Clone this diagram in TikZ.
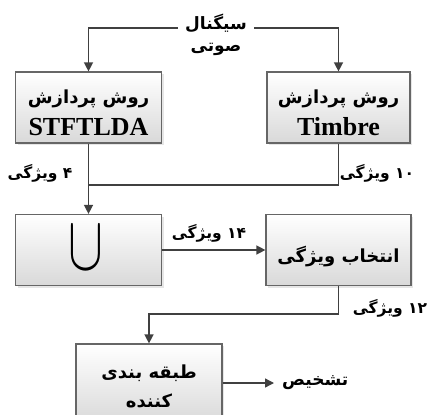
\documentclass[tikz,border=0pt]{standalone}
\usepackage{fontspec}
\usepackage{graphicx}
\setmainfont{Liberation Serif}
\newfontfamily\fafont[Script=Arabic]{DejaVu Sans}
\TeXXeTstate=1
\usetikzlibrary{arrows.meta,shadows}
\newcommand\fatx[1]{{\fafont\beginR #1\endR}}
\newcommand\tgap[1]{\rule{0pt}{#1}}
\tikzset{
  box/.style={draw=black!60, line width=1.2pt, top color=white, bottom color=black!15,
    minimum width=146pt, minimum height=71pt, align=center, inner sep=0pt,
    drop shadow={shadow xshift=2pt, shadow yshift=-2pt, opacity=0.2},
    font=\fontsize{18}{32}\selectfont\bfseries},
  conn/.style={draw=black!75, line width=1.4pt},
  arr/.style={conn, -{Triangle[length=9pt,width=9pt]}},
  lab/.style={font=\fontsize{15.5}{18}\selectfont\bfseries, inner sep=0pt},
}
\begin{document}
\begin{tikzpicture}[x=1pt,y=-1pt]
\useasboundingbox (0,0) rectangle (427,414);
\clip (0,0) rectangle (427,414);
\node[align=center, font=\fontsize{17}{22}\selectfont\bfseries, inner sep=7pt] (sig) at (216,35) {\fatx{سیگنال}\\\fatx{صوتی}};
\node[box] (b1) at (88.5,107.5) {\tgap{24pt}\fatx{روش پردازش}\\{\fontsize{26}{32}\selectfont STFTLDA}};
\node[box, minimum width=143pt] (b2) at (338.5,107.5) {\tgap{24pt}\fatx{روش پردازش}\\{\fontsize{26}{32}\selectfont Timbre}};
\draw[arr] ([yshift=7pt]sig.west) -| (b1.north);
\draw[arr] ([yshift=7pt]sig.east) -| (b2.north);
\coordinate (j) at (88.5,185);
\node[box] (u) at (88.5,250) {\raisebox{3pt}{\scalebox{2.1}[3.1]{\fontsize{24.88}{25}\selectfont$\cup$}}\hspace*{6pt}};
\draw[conn] (b2.south) |- (j);
\draw[arr] (b1.south) -- (u.north);
\node[box, minimum width=145pt] (sel) at (338.5,250) {\tgap{29pt}\fatx{انتخاب ویژگی}};
\draw[arr] (u.east) -- (sel.west);
\node[box, minimum height=80pt, font=\fontsize{18}{29}\selectfont\bfseries] (cls) at (149,384) {\tgap{19pt}\fatx{طبقه بندی}\\\fatx{کننده}};
\coordinate (k) at (149,314);
\draw[arr] (sel.south) |- (k) -- (cls.north);
\node[anchor=west, font=\fontsize{17}{20}\selectfont\bfseries, inner sep=0pt] (diag) at (282,383) {\fatx{تشخیص}};
\draw[arr] (cls.east |- diag.west) -- ([xshift=-8pt]diag.west);
\node[lab] (l4) at (40,173) {\fatx{۴ ویژگی}};
\node[lab] (l10) at (377,173) {\fatx{\beginL ۱۰\endL{} ویژگی}};
\node[lab] (l14) at (209,233) {\fatx{\beginL ۱۴\endL{} ویژگی}};
\node[lab] (l12) at (390,308) {\fatx{\beginL ۱۲\endL{} ویژگی}};
\end{tikzpicture}
\end{document}
